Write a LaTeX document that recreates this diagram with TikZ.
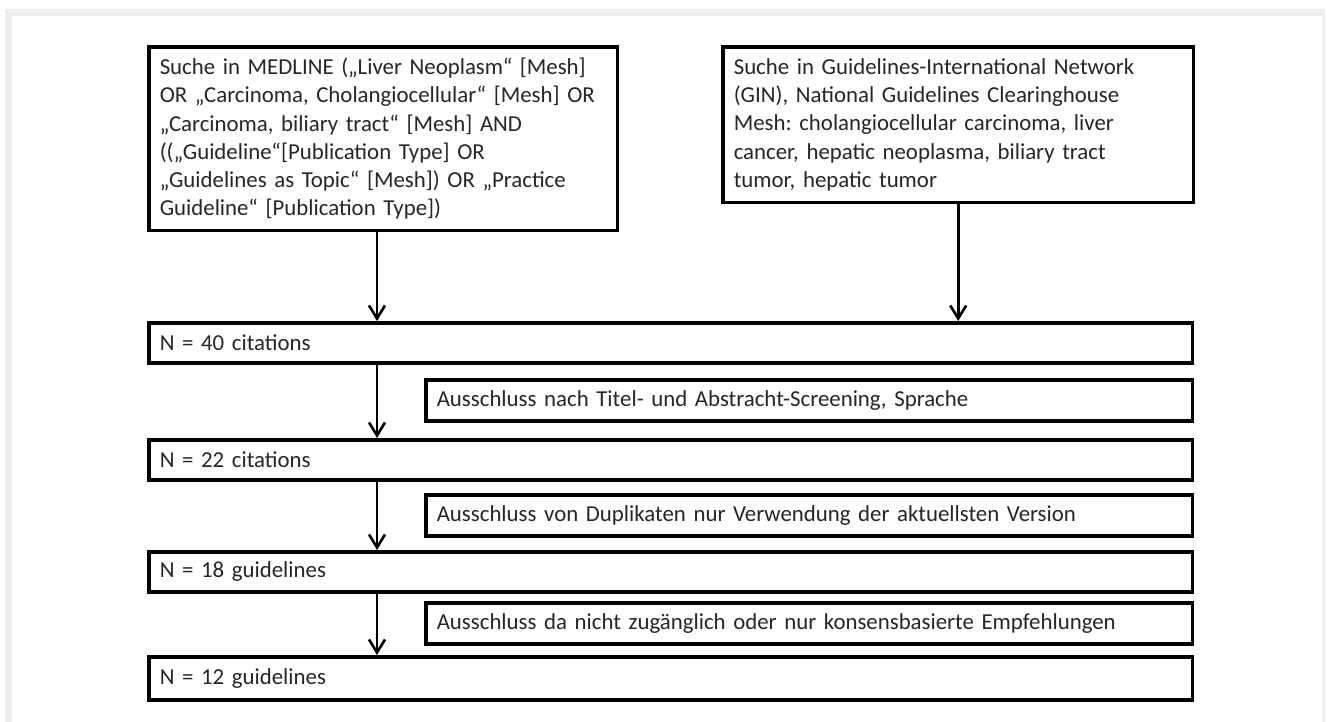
\documentclass[tikz,border=0pt]{standalone}
\usepackage{fontspec}
\setmainfont{Carlito}
\usepackage{xcolor}
\usepackage{tikz}
\usetikzlibrary{arrows.meta,positioning}
\frenchspacing

\begin{document}
\begin{tikzpicture}[x=0.02cm,y=-0.02cm,
        box/.style={draw,line width=2pt,rectangle,anchor=north west,inner xsep=0.22cm,inner ysep=0pt,align=left,font=\fontsize{13}{16.1}\selectfont,text=black!85},
        nbox/.style={box,text width=20.44cm,minimum height=0.8cm},
        exbox/.style={box,text width=14.9cm,minimum height=0.82cm},
        arr/.style={line width=1.5pt,-{Straight Barb[length=0.26cm,width=0.32cm]}}]
        \useasboundingbox (0,0) rectangle (1327,722);
        \fill [gray!13] (5,9) rectangle (1325,722);
        \fill [white] (12,16) rectangle (1322,722);
        \node [box,text width=8.94cm,minimum height=3.68cm] (medline) at (147,45) {Suche in MEDLINE („Liver Neoplasm“ [Mesh]\\OR „Carcinoma, Cholangiocellular“ [Mesh] OR\\„Carcinoma, biliary tract“ [Mesh] AND\\((„Guideline“[Publication Type] OR\\„Guidelines as Topic“ [Mesh]) OR „Practice\\Guideline“ [Publication Type])};
        \node [box,text width=8.98cm,minimum height=3.12cm] (gin) at (721,45) {Suche in Guidelines-International Network\\(GIN), National Guidelines Clearinghouse\\Mesh: cholangiocellular carcinoma, liver\\cancer, hepatic neoplasma, biliary tract\\tumor, hepatic tumor};
        \node [nbox] (n40) at (147,321) {N = 40 citations};
        \node [exbox] (ex1) at (424,378) {Ausschluss nach Titel- und Abstracht-Screening, Sprache};
        \node [nbox] (n22) at (147,438) {N = 22 citations};
        \node [exbox] (ex2) at (424,493) {Ausschluss von Duplikaten nur Verwendung der aktuellsten Version};
        \node [nbox] (n18) at (147,550) {N = 18 guidelines};
        \node [exbox] (ex3) at (424,601) {Ausschluss da nicht zugänglich oder nur konsensbasierte Empfehlungen};
        \node [nbox,minimum height=0.86cm] (n12) at (147,655) {N = 12 guidelines};
        \coordinate (lx) at (377,0);
        \draw [arr] (lx |- medline.south) -- (lx |- n40.north);
        \draw [arr] (gin.south) -- (gin.south |- n40.north);
        \draw [arr] (lx |- n40.south) -- (lx |- n22.north);
        \draw [arr] (lx |- n22.south) -- (lx |- n18.north);
        \draw [arr] (lx |- n18.south) -- (lx |- n12.north);
\end{tikzpicture}
\end{document}
